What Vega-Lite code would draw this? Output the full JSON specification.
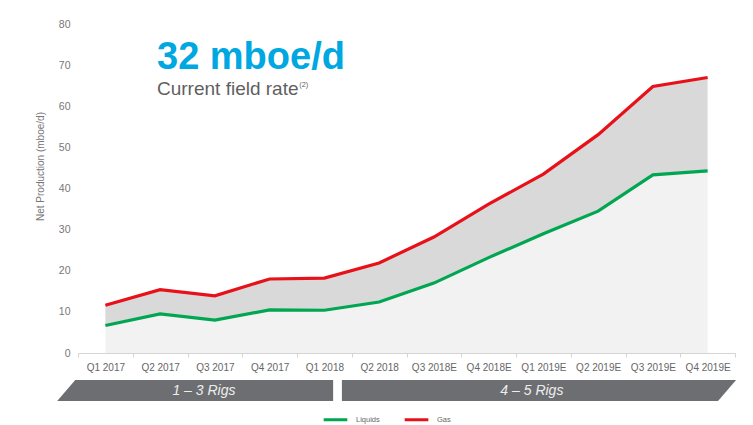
{
  "$schema": "https://vega.github.io/schema/vega-lite/v6.json",
  "width": 657,
  "height": 329,
  "autosize": {"type": "none"},
  "padding": {"left": 78, "top": 24, "right": 18, "bottom": 72},
  "background": "white",
  "config": {
    "font": "Liberation Sans",
    "view": {"stroke": null},
    "axis": {"grid": false}
  },
  "datasets": {
    "production": [
      {"quarter": "Q1 2017", "Liquids": 6.7, "Gas": 11.6},
      {"quarter": "Q2 2017", "Liquids": 9.5, "Gas": 15.4},
      {"quarter": "Q3 2017", "Liquids": 8.0, "Gas": 13.9},
      {"quarter": "Q4 2017", "Liquids": 10.5, "Gas": 18.0},
      {"quarter": "Q1 2018", "Liquids": 10.4, "Gas": 18.2},
      {"quarter": "Q2 2018", "Liquids": 12.4, "Gas": 21.9},
      {"quarter": "Q3 2018E", "Liquids": 17.0, "Gas": 28.2},
      {"quarter": "Q4 2018E", "Liquids": 23.2, "Gas": 36.2},
      {"quarter": "Q1 2019E", "Liquids": 29.0, "Gas": 43.5},
      {"quarter": "Q2 2019E", "Liquids": 34.5, "Gas": 53.1},
      {"quarter": "Q3 2019E", "Liquids": 43.3, "Gas": 64.8},
      {"quarter": "Q4 2019E", "Liquids": 44.3, "Gas": 67.0}
    ],
    "banners": [
      {"phase": "1 – 3 Rigs", "q": -0.38, "top": -11.67, "bottom": -11.67},
      {"phase": "1 – 3 Rigs", "q": -0.05, "top": -6.57, "bottom": -11.67},
      {"phase": "1 – 3 Rigs", "q": 4.66, "top": -6.57, "bottom": -11.67},
      {"phase": "4 – 5 Rigs", "q": 4.82, "top": -6.57, "bottom": -11.67},
      {"phase": "4 – 5 Rigs", "q": 11.69, "top": -6.57, "bottom": -11.67},
      {"phase": "4 – 5 Rigs", "q": 12.02, "top": -6.57, "bottom": -6.57}
    ]
  },
  "layer": [
    {
      "data": {"name": "production"},
      "encoding": {
        "x": {
          "field": "quarter",
          "type": "ordinal",
          "sort": null,
          "bandPosition": 0.5,
          "scale": {"type": "band", "paddingInner": 0, "paddingOuter": 0},
          "axis": {
            "title": null,
            "labelAngle": 0,
            "tickBand": "extent",
            "domainColor": "#d4d4d4",
            "tickColor": "#d4d4d4",
            "tickSize": 4,
            "labelPadding": 5,
            "labelFontSize": 10,
            "labelColor": "#666666"
          }
        }
      },
      "layer": [
        {
          "mark": {"type": "area", "color": "#d9d9d9"},
          "encoding": {
            "y": {
              "field": "Gas",
              "type": "quantitative",
              "scale": {"domain": [0, 80], "nice": false},
              "axis": {
                "title": "Net Production (mboe/d)",
                "values": [0, 10, 20, 30, 40, 50, 60, 70, 80],
                "domain": false,
                "ticks": false,
                "labelPadding": 8,
                "labelFontSize": 10.5,
                "labelColor": "#777777",
                "titleFontSize": 10,
                "titleFontWeight": "normal",
                "titleColor": "#777777",
                "titleX": -38,
                "titleY": 142,
                "titleAlign": "center",
                "titleBaseline": "middle"
              }
            },
            "y2": {"field": "Liquids"}
          }
        },
        {
          "mark": {"type": "area", "color": "#f2f2f2"},
          "encoding": {
            "y": {"field": "Liquids", "type": "quantitative"}
          }
        },
        {
          "transform": [{"fold": ["Liquids", "Gas"], "as": ["series", "value"]}],
          "mark": {"type": "line", "strokeWidth": 3.2},
          "encoding": {
            "y": {"field": "value", "type": "quantitative"},
            "color": {
              "field": "series",
              "type": "nominal",
              "scale": {"domain": ["Liquids", "Gas"], "range": ["#00a651", "#e8111a"]},
              "legend": {
                "title": null,
                "orient": "none",
                "direction": "horizontal",
                "legendX": 244,
                "legendY": 382,
                "symbolType": "stroke",
                "symbolSize": 560,
                "symbolStrokeWidth": 3,
                "labelFontSize": 7.5,
                "labelColor": "#666666",
                "labelOffset": 7,
                "columnPadding": 18
              }
            }
          }
        }
      ]
    },
    {
      "layer": [
        {
          "data": {"name": "banners"},
          "mark": {"type": "area", "color": "#6d6e71", "interpolate": "linear"},
          "encoding": {
            "x": {"field": "q", "type": "quantitative", "scale": {"domain": [0, 12], "nice": false, "zero": false}, "axis": null},
            "y": {"field": "top", "type": "quantitative", "scale": {"domain": [0, 80], "nice": false}, "axis": null},
            "y2": {"field": "bottom"},
            "detail": {"field": "phase"}
          }
        },
        {
          "data": {"values": [{}]},
          "mark": {"type": "text", "text": "1 – 3 Rigs", "fontStyle": "italic", "fontSize": 14, "color": "#eeeeee", "align": "center", "baseline": "middle"},
          "encoding": {
            "x": {"datum": 2.3, "type": "quantitative"},
            "y": {"datum": -9.24, "type": "quantitative"}
          }
        },
        {
          "data": {"values": [{}]},
          "mark": {"type": "text", "text": "4 – 5 Rigs", "fontStyle": "italic", "fontSize": 14, "color": "#eeeeee", "align": "center", "baseline": "middle"},
          "encoding": {
            "x": {"datum": 8.29, "type": "quantitative"},
            "y": {"datum": -9.24, "type": "quantitative"}
          }
        },
        {
          "data": {"values": [{}]},
          "mark": {"type": "text", "text": "32 mboe/d", "fontWeight": "bold", "fontSize": 38, "color": "#00a8e1", "align": "left", "baseline": "alphabetic"},
          "encoding": {
            "x": {"datum": 1.443, "type": "quantitative"},
            "y": {"datum": 69.0, "type": "quantitative"}
          }
        },
        {
          "data": {"values": [{}]},
          "mark": {"type": "text", "text": "Current field rate", "fontSize": 19, "color": "#5f5f5f", "align": "left", "baseline": "alphabetic"},
          "encoding": {
            "x": {"datum": 1.443, "type": "quantitative"},
            "y": {"datum": 62.7, "type": "quantitative"}
          }
        },
        {
          "data": {"values": [{}]},
          "mark": {"type": "text", "text": "(2)", "fontSize": 7.5, "color": "#5f5f5f", "align": "left", "baseline": "alphabetic"},
          "encoding": {
            "x": {"datum": 4.04, "type": "quantitative"},
            "y": {"datum": 64.6, "type": "quantitative"}
          }
        }
      ]
    }
  ],
  "resolve": {"scale": {"x": "independent", "y": "independent", "color": "independent"}, "axis": {"x": "independent", "y": "independent"}}
}
